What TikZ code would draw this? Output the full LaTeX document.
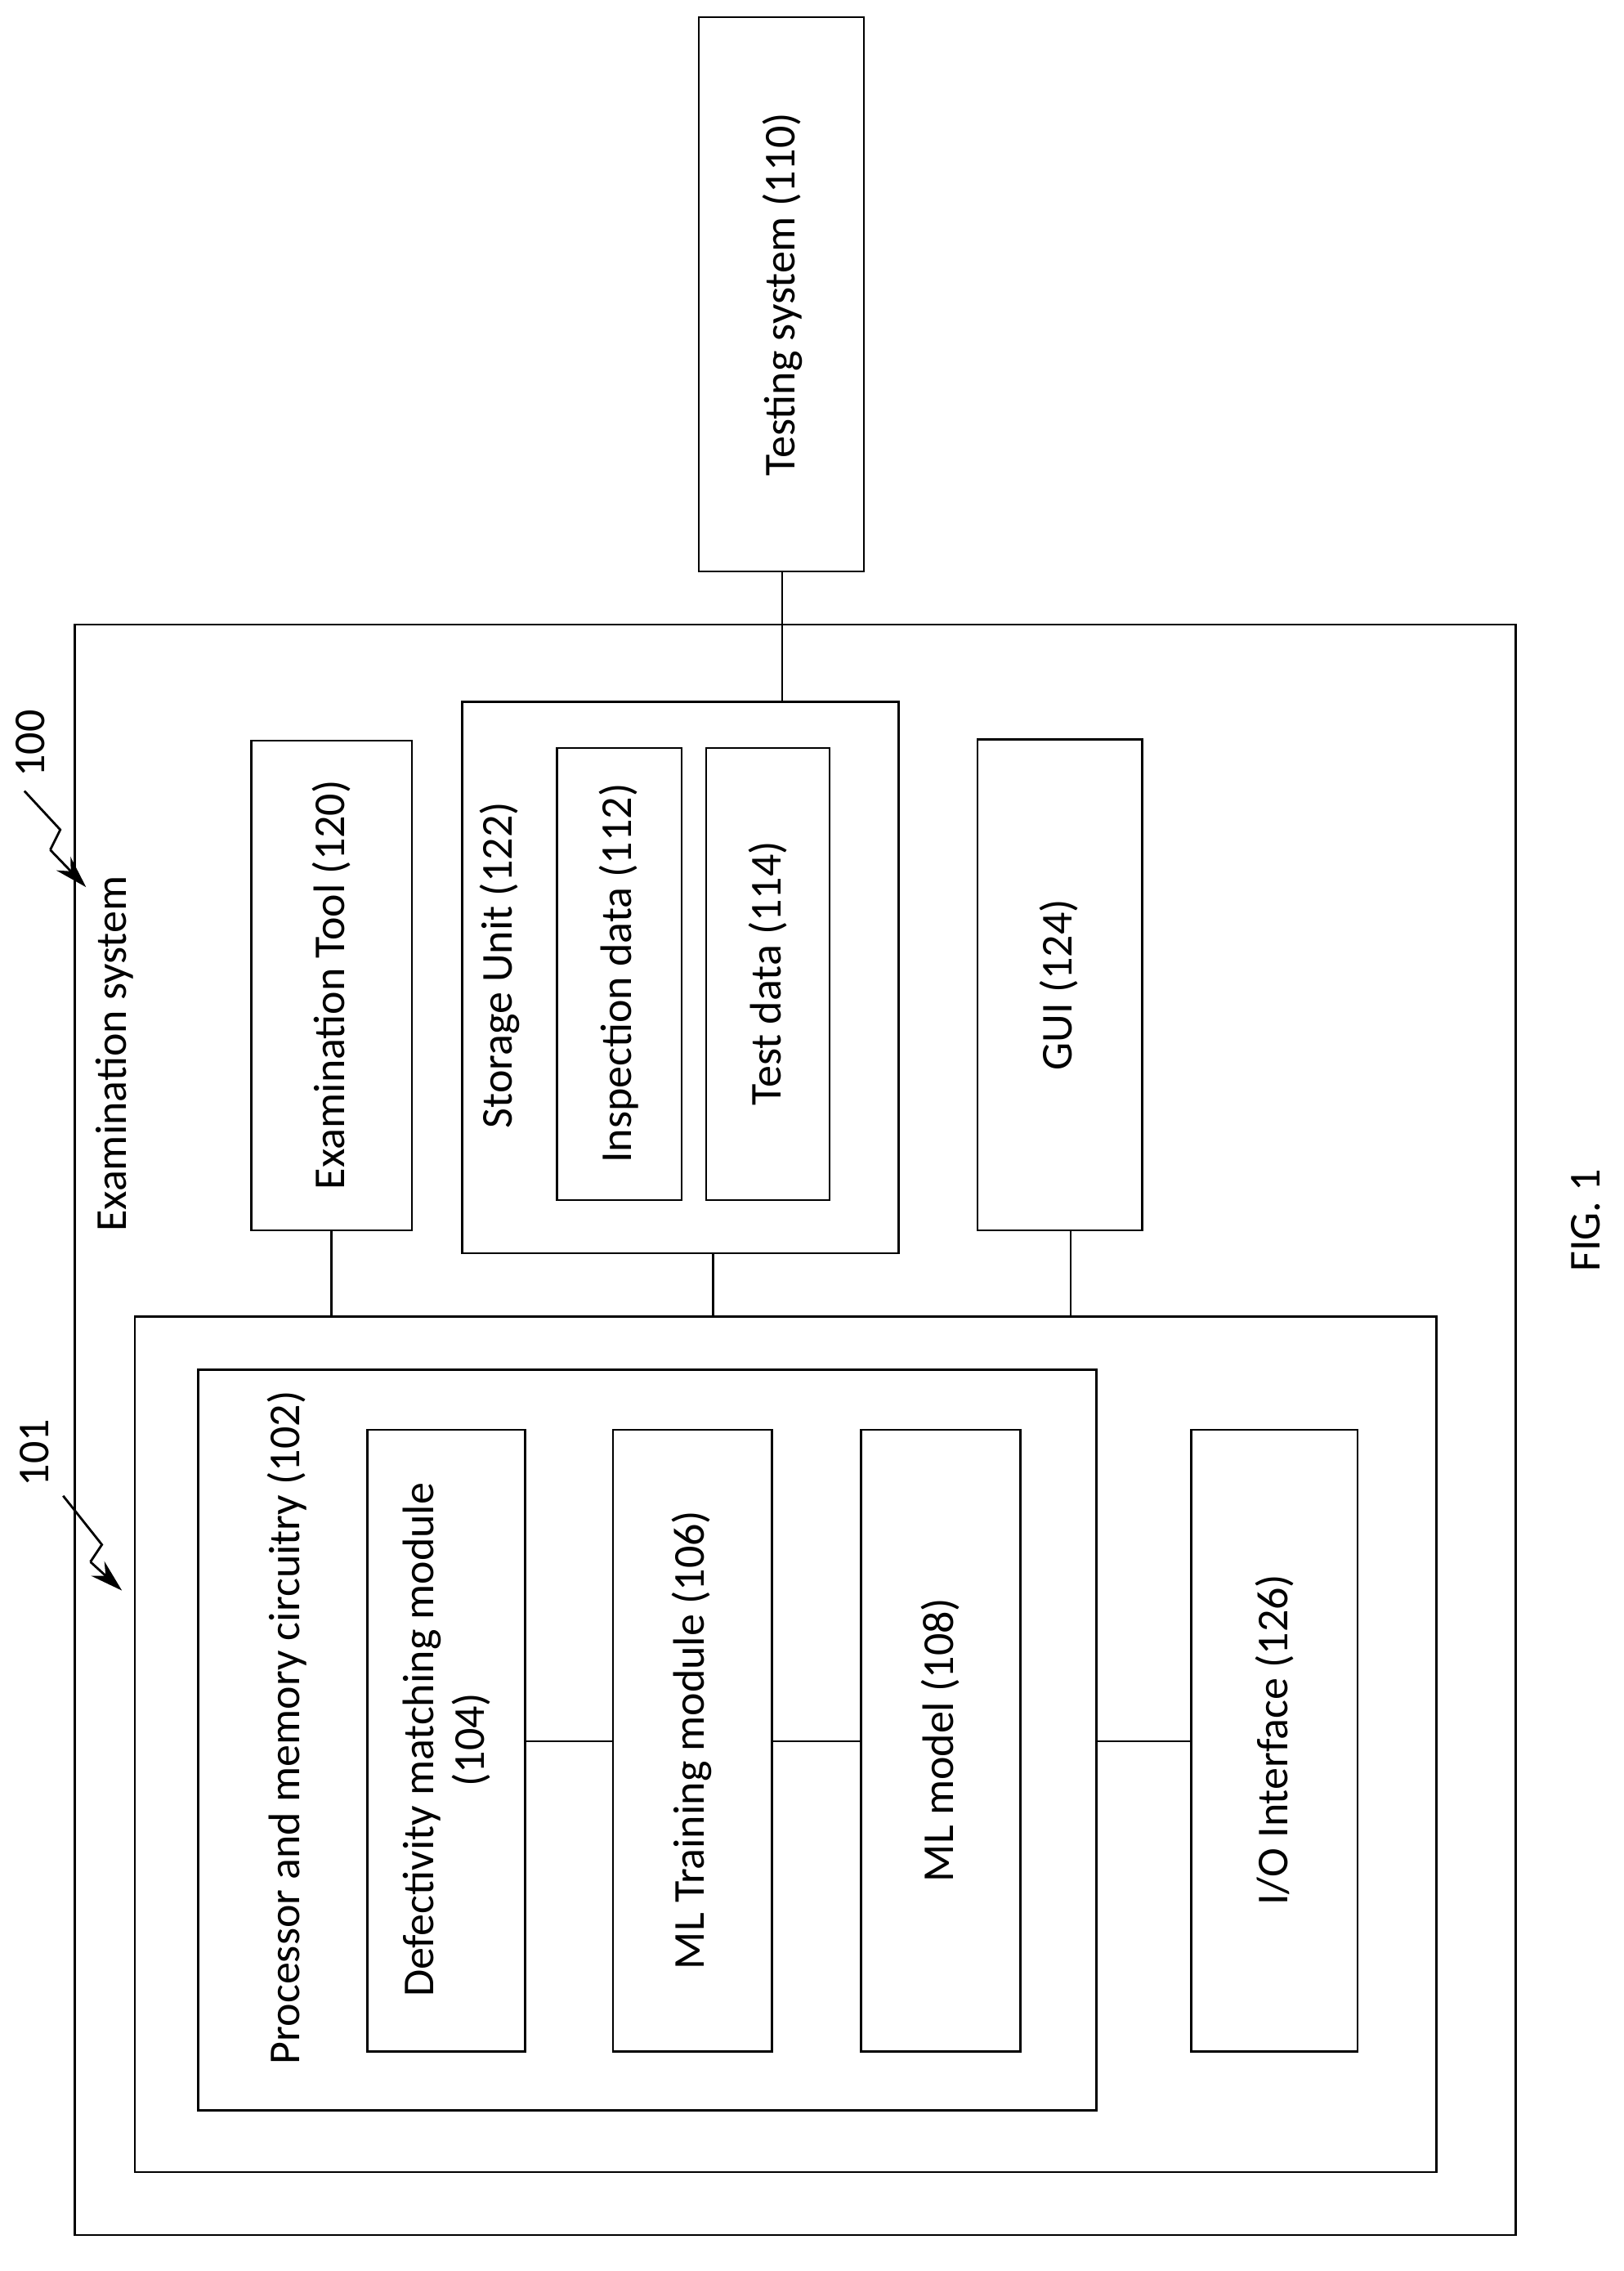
\documentclass[tikz,border=0pt]{standalone}
\usepackage{fontspec}
\setmainfont{Carlito}
\usetikzlibrary{arrows.meta}
\begin{document}
\begin{tikzpicture}[x=0.878pt,y=-0.878pt,
  box/.style={draw,line width=1.3pt,inner sep=0pt},
  lbl/.style={font=\fontsize{27}{31}\selectfont,rotate=90,align=center},
  ln/.style={line width=1.3pt}]
\useasboundingbox (0,0) rectangle (1131,1582);
\draw[box] (487,12) rectangle (602,398);
\node[lbl] (ts) at (545,205) {Testing system (110)};
\draw[box] (52,435) rectangle (1056,1557);
\node[lbl,anchor=west] (exs) at (80,862) {Examination system};
\draw[box] (175,516) rectangle (287,857);
\node[lbl] (et) at (231,686) {Examination Tool (120)};
\draw[box] (322,489) rectangle (626,873);
\node[lbl,anchor=west] (su) at (348,790) {Storage Unit (122)};
\draw[box] (388,521) rectangle (475,836);
\node[lbl] (id) at (431,678) {Inspection data (112)};
\draw[box] (492,521) rectangle (578,836);
\node[lbl] (td) at (535,678) {Test data (114)};
\draw[box] (681,515) rectangle (796,857);
\node[lbl] (gui) at (738,686) {GUI (124)};
\draw[box] (94,917) rectangle (1001,1513);
\draw[box] (138,954) rectangle (764,1470);
\node[lbl,anchor=west] (pm) at (200,1442) {Processor and memory circuitry (102)};
\draw[box] (256,996) rectangle (366,1429);
\node[lbl] (dm) at (311,1212) {Defectivity matching module\\(104)};
\draw[box] (427,996) rectangle (538,1429);
\node[lbl] (mlt) at (482,1212) {ML Training module (106)};
\draw[box] (600,996) rectangle (711,1429);
\node[lbl] (mlm) at (655,1212) {ML model (108)};
\draw[box] (830,996) rectangle (946,1429);
\node[lbl] (io) at (888,1212) {I/O Interface (126)};
% connectors
\draw[ln] (545,398) -- (545,489);
\draw[ln] (231,857) -- (231,917);
\draw[ln] (497,873) -- (497,917);
\draw[ln] (746,857) -- (746,917);
\draw[ln] (366,1213) -- (427,1213);
\draw[ln] (538,1213) -- (600,1213);
\draw[ln] (764,1213) -- (830,1213);
% reference squiggles
\node[lbl] (r100) at (21,518) {100};
\draw[line width=1.4pt] (17,551) -- (42,578) -- (35,592);
\draw[line width=1.4pt,-{Stealth[length=20pt,width=12pt]}] (35,592) -- (60,618);
\node[lbl] (r101) at (24,1012) {101};
\draw[line width=1.4pt] (44,1042) -- (71,1076) -- (63,1088);
\draw[line width=1.4pt,-{Stealth[length=20pt,width=12pt]}] (63,1088) -- (85,1108);
\node[lbl] (fig) at (1105,850) {FIG. 1};
\end{tikzpicture}
\end{document}
